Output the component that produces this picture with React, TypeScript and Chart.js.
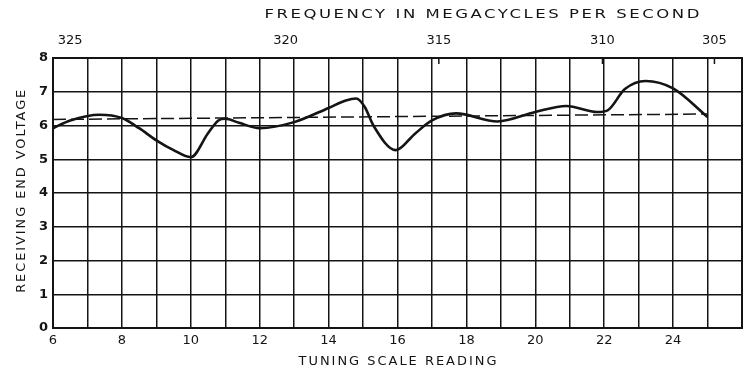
import React, { useEffect, useRef } from 'react';
import { Chart, registerables } from 'chart.js';

Chart.register(...registerables);

// Tuning scale reading (x) vs receiving end voltage (y), solid curve
const curveX = [6, 6.5, 7.35, 8, 8.5, 9, 9.5, 10, 10.5, 10.8, 11, 11.4, 12, 13, 14, 14.5, 14.8, 15.05, 15.3, 15.95, 16.5, 17, 17.7, 18.9, 20, 20.9, 21.8, 22.1, 22.6, 23.2, 24, 25];
const curveY = [5.92, 6.15, 6.32, 6.22, 5.92, 5.56, 5.27, 5.06, 5.77, 6.15, 6.2, 6.08, 5.92, 6.1, 6.52, 6.74, 6.8, 6.55, 6.0, 5.27, 5.75, 6.15, 6.36, 6.12, 6.4, 6.58, 6.4, 6.45, 7.08, 7.32, 7.1, 6.25];

// Dashed reference line
const refX = [6, 25];
const refY = [6.18, 6.34];

// Axis ticks
const bottomTickLabels = [6, 8, 10, 12, 14, 16, 18, 20, 22, 24];
const freqPositions = [6.5, 12.75, 17.2, 21.95, 25.2];
const freqLabels = ['325', '320', '315', '310', '305'];

const topTitle = 'FREQUENCY IN MEGACYCLES PER SECOND';
const bottomTitle = 'TUNING SCALE READING';
const leftTitle = 'RECEIVING END VOLTAGE';

const INK = '#141414';
const FONT = '"DejaVu Sans", sans-serif';

function drawSpaced(ctx: CanvasRenderingContext2D, text: string, cx: number, cy: number, width: number, rotate: boolean) {
  ctx.save();
  ctx.font = `13px ${FONT}`;
  ctx.fillStyle = INK;
  (ctx as any).letterSpacing = '2px';
  const natural = ctx.measureText(text).width - 2;
  const sx = width / natural;
  ctx.textAlign = 'left';
  ctx.textBaseline = 'middle';
  ctx.translate(cx, cy);
  if (rotate) ctx.rotate(-Math.PI / 2);
  ctx.scale(sx, 1);
  ctx.fillText(text, -natural / 2, 0);
  ctx.restore();
}

const titlesPlugin = {
  id: 'spacedTitles',
  afterDraw(chart: any) {
    const ctx = chart.ctx as CanvasRenderingContext2D;
    const xs = chart.scales.x;
    const ys = chart.scales.y;
    drawSpaced(ctx, topTitle, xs.getPixelForValue(18.45), 15, 435, false);
    drawSpaced(ctx, bottomTitle, xs.getPixelForValue(16.0), 362, 198, false);
    drawSpaced(ctx, leftTitle, 22, ys.getPixelForValue(4.05), 203, true);
    // small frequency tick marks just inside the top border
    ctx.save();
    ctx.strokeStyle = INK;
    ctx.lineWidth = 1.5;
    const top = chart.chartArea.top;
    freqPositions.slice(2).forEach((v) => {
      const px = xs.getPixelForValue(v);
      ctx.beginPath();
      ctx.moveTo(px, top);
      ctx.lineTo(px, top + 6);
      ctx.stroke();
    });
    ctx.restore();
  },
};

export default function App() {
  const ref = useRef<HTMLCanvasElement | null>(null);

  useEffect(() => {
    if (!ref.current) return;
    const chart = new Chart(ref.current, {
      type: 'line',
      data: {
        datasets: [
          {
            data: curveX.map((x, i) => ({ x, y: curveY[i] })),
            borderColor: INK,
            borderWidth: 2.6,
            pointRadius: 0,
            cubicInterpolationMode: 'monotone',
            xAxisID: 'x',
            yAxisID: 'y',
          },
          {
            data: refX.map((x, i) => ({ x, y: refY[i] })),
            borderColor: INK,
            borderWidth: 1.5,
            borderDash: [13, 5],
            pointRadius: 0,
            xAxisID: 'x',
            yAxisID: 'y',
          },
        ],
      },
      options: {
        responsive: false,
        animation: false,
        events: [],
        layout: { padding: { left: 0, right: 6, top: 0, bottom: 0 } },
        plugins: {
          legend: { display: false },
          tooltip: { enabled: false },
          title: { display: false },
        },
        scales: {
          x: {
            type: 'linear',
            position: 'bottom',
            min: 6,
            max: 26,
            afterBuildTicks: (s: any) => {
              const t = [];
              for (let v = 6; v <= 26; v++) t.push({ value: v });
              s.ticks = t;
            },
            ticks: {
              autoSkip: false,
              maxRotation: 0,
              color: INK,
              padding: 5,
              font: { family: FONT, size: 13 },
              callback: (v: any) => (bottomTickLabels.includes(Number(v)) ? String(v) : ''),
            },
            grid: { color: INK, lineWidth: 1.5, drawTicks: false },
            border: { color: INK, width: 2 },
            afterFit: (s: any) => { s.height = 45; },
          },
          x2: {
            type: 'linear',
            position: 'top',
            min: 6,
            max: 26,
            afterBuildTicks: (s: any) => {
              s.ticks = freqPositions.map((v) => ({ value: v }));
            },
            ticks: {
              autoSkip: false,
              maxRotation: 0,
              color: INK,
              padding: 2,
              font: { family: FONT, size: 13 },
              callback: (_v: any, i: number) => freqLabels[i],
            },
            grid: { display: false, drawOnChartArea: false },
            border: { color: INK, width: 2 },
            afterFit: (s: any) => { s.height = 58; },
          },
          y: {
            type: 'linear',
            min: 0,
            max: 8,
            ticks: {
              stepSize: 1,
              color: INK,
              padding: 5,
              font: { family: FONT, size: 13, weight: 'bold' },
            },
            grid: { color: INK, lineWidth: 1.5, drawTicks: false },
            border: { color: INK, width: 2 },
            afterFit: (s: any) => { s.width = 53; },
          },
          y2: {
            type: 'linear',
            position: 'right',
            min: 0,
            max: 8,
            ticks: { display: false },
            grid: { display: false },
            border: { color: INK, width: 2 },
            afterFit: (s: any) => { s.width = 0; },
          },
        },
      },
      plugins: [titlesPlugin],
    } as any);
    return () => chart.destroy();
  }, []);

  return (
    <div style={{ position: 'fixed', left: 0, top: 0, width: 748, height: 373, background: '#fff' }}>
      <canvas ref={ref} width={748} height={373} style={{ display: 'block' }} />
    </div>
  );
}
